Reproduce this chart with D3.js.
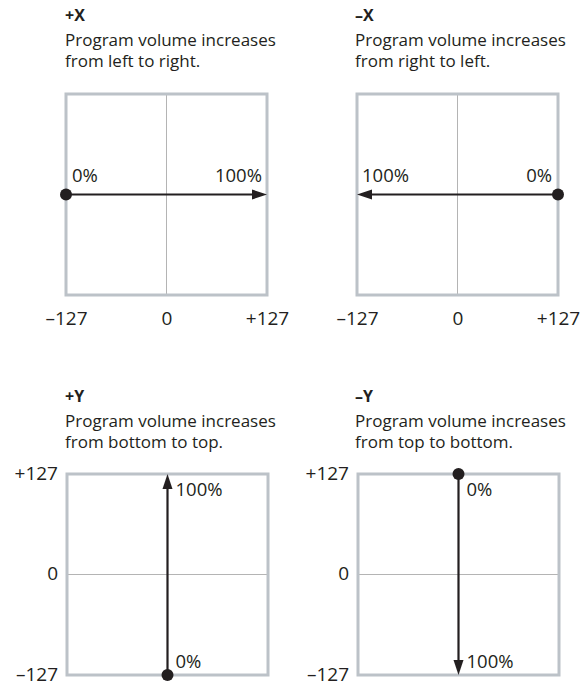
<!DOCTYPE html>
<html><head><meta charset="utf-8">
<script src="https://cdn.jsdelivr.net/npm/d3@7"></script>
<style>
html,body{margin:0;padding:0;background:#fff;}
text{font-family:"Open Sans","Noto Sans",sans-serif;fill:#231f20;}
</style></head>
<body><svg id="c" width="583" height="684"></svg>
<script>
const panelTitles = ["+X", "–X", "+Y", "–Y"];
const descLine1 = ["Program volume increases","Program volume increases","Program volume increases","Program volume increases"];
const descLine2 = ["from left to right.","from right to left.","from bottom to top.","from top to bottom."];
const axisKind = ["x","x","y","y"];
// start and end values of each arrow (in -127..+127 units)
const startVal = [-127, 127, -127, 127];
const endVal = [127, -127, 127, -127];
const startLabel = ["0%","0%","0%","0%"];
const endLabel = ["100%","100%","100%","100%"];
const tickValues = [-127, 0, 127];
const tickLabels = ["–127", "0", "+127"];

const svg = d3.select("#c");
const boxes = [
  {x0:66, y0:94, title:[65,21]},
  {x0:357, y0:94, title:[355,21]},
  {x0:67, y0:474, title:[65,402]},
  {x0:358, y0:474, title:[355,402]}
];
const S = 201;
const boxColor = "#bcc2c8", midColor = "#b4b4b4", ink = "#231f20";
const fsDesc = 17, fsTick = 19, fsPct = 18.5;

panelTitles.forEach((t, i) => {
  const b = boxes[i];
  const g = svg.append("g");
  g.append("text").attr("x", b.title[0]).attr("y", b.title[1])
    .attr("font-weight", "bold").attr("font-size", 16).text(t);
  g.append("text").attr("x", b.title[0]).attr("y", b.title[1] + 25)
    .attr("font-size", fsDesc).text(descLine1[i]);
  g.append("text").attr("x", b.title[0]).attr("y", b.title[1] + 46)
    .attr("font-size", fsDesc).text(descLine2[i]);

  const xs = d3.scaleLinear().domain([-127, 127]).range([b.x0, b.x0 + S]);
  const ys = d3.scaleLinear().domain([-127, 127]).range([b.y0 + S, b.y0]);

  // mid line
  if (axisKind[i] === "x") {
    g.append("line").attr("x1", xs(0)).attr("x2", xs(0)).attr("y1", b.y0).attr("y2", b.y0 + S)
      .attr("stroke", midColor).attr("stroke-width", 1);
  } else {
    g.append("line").attr("y1", ys(0)).attr("y2", ys(0)).attr("x1", b.x0).attr("x2", b.x0 + S)
      .attr("stroke", midColor).attr("stroke-width", 1);
  }
  g.append("rect").attr("x", b.x0).attr("y", b.y0).attr("width", S).attr("height", S)
    .attr("fill", "none").attr("stroke", boxColor).attr("stroke-width", 3);

  // axis
  if (axisKind[i] === "x") {
    const ax = d3.axisBottom(xs).tickValues(tickValues).tickSize(0).tickPadding(0)
      .tickFormat((d, k) => tickLabels[k]);
    const ag = g.append("g").attr("transform", `translate(0,${b.y0 + S + 30})`).call(ax);
    ag.select(".domain").remove();
    ag.selectAll("text").attr("font-size", fsTick).attr("font-family", '"Open Sans",sans-serif')
      .attr("fill", ink).attr("y", 0).attr("dy", 0);
  } else {
    const ax = d3.axisLeft(ys).tickValues(tickValues).tickSize(0).tickPadding(9)
      .tickFormat((d, k) => tickLabels[k]);
    const ag = g.append("g").attr("transform", `translate(${b.x0},0)`).call(ax);
    ag.select(".domain").remove();
    ag.selectAll("text").attr("font-size", fsTick).attr("font-family", '"Open Sans",sans-serif')
      .attr("fill", ink).attr("dy", "0.28em");
  }

  // arrow
  const headL = 15, headW = 5;
  if (axisKind[i] === "x") {
    const yy = ys(0);
    const x1 = xs(startVal[i]), x2 = xs(endVal[i]);
    const dir = Math.sign(x2 - x1);
    g.append("line").attr("x1", x1).attr("x2", x2 - dir * headL + dir).attr("y1", yy).attr("y2", yy)
      .attr("stroke", ink).attr("stroke-width", 2.2);
    g.append("path").attr("d", `M${x2},${yy}L${x2 - dir * headL},${yy - headW}L${x2 - dir * headL},${yy + headW}Z`)
      .attr("fill", ink);
    g.append("circle").attr("cx", x1).attr("cy", yy).attr("r", 6).attr("fill", ink);
    const sl = g.append("text").attr("y", yy - 13).attr("font-size", fsPct).text(startLabel[i]);
    const el = g.append("text").attr("y", yy - 13).attr("font-size", fsPct).text(endLabel[i]);
    if (dir > 0) {
      sl.attr("x", x1 + 6).attr("text-anchor", "start");
      el.attr("x", x2 - 5).attr("text-anchor", "end");
    } else {
      sl.attr("x", x1 - 6).attr("text-anchor", "end");
      el.attr("x", x2 + 5).attr("text-anchor", "start");
    }
  } else {
    const xx = xs(0);
    const y1 = ys(startVal[i]), y2 = ys(endVal[i]);
    const dir = Math.sign(y2 - y1);
    g.append("line").attr("y1", y1).attr("y2", y2 - dir * headL + dir).attr("x1", xx).attr("x2", xx)
      .attr("stroke", ink).attr("stroke-width", 2.2);
    g.append("path").attr("d", `M${xx},${y2}L${xx - headW},${y2 - dir * headL}L${xx + headW},${y2 - dir * headL}Z`)
      .attr("fill", ink);
    g.append("circle").attr("cx", xx).attr("cy", y1).attr("r", 6).attr("fill", ink);
    const top = b.y0 + 22, bot = b.y0 + 194;
    g.append("text").attr("x", xx + 8).attr("y", dir < 0 ? bot : top).attr("font-size", fsPct).text(startLabel[i]);
    g.append("text").attr("x", xx + 8).attr("y", dir < 0 ? top : bot).attr("font-size", fsPct).text(endLabel[i]);
  }
});
</script></body></html>
